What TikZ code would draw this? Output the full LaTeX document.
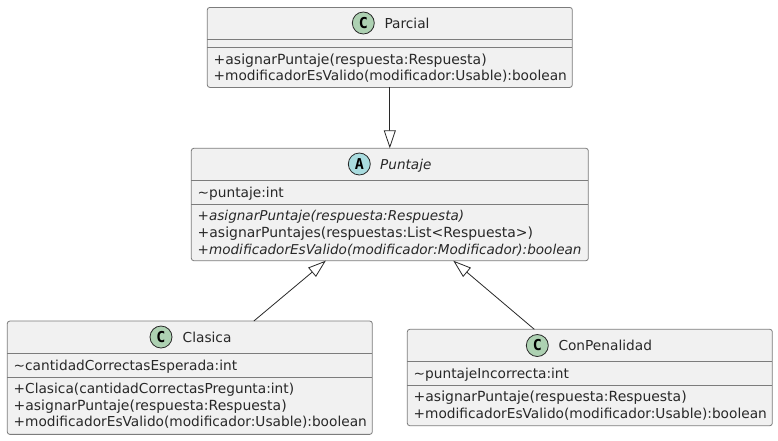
\documentclass[tikz,border=0pt]{standalone}
\usepackage{fontspec}
\setmainfont{DejaVu Sans}
\newfontfamily\iconfont{DejaVu Sans Mono}
\usetikzlibrary{arrows.meta}
\definecolor{boxfill}{HTML}{F1F1F1}
\definecolor{boxline}{HTML}{7C7C7C}
\definecolor{darkline}{HTML}{282828}
\definecolor{iconC}{HTML}{ADD1B2}
\definecolor{iconA}{HTML}{A9DCDF}
\tikzset{
  classbox/.style={draw=boxline,fill=boxfill,line width=.8pt,rounded corners=2.5pt,inner sep=0pt,outer sep=0pt},
  sepline/.style={draw=boxline,line width=.8pt},
  member/.style={anchor=base west,inner sep=0pt,text=darkline,font=\fontsize{13.72}{14}\selectfont},
  memberwide/.style={member,font=\fontsize{13.97}{14}\selectfont},
  slanted/.style={member,font=\fontsize{13.58}{14}\selectfont\itshape},
  title/.style={member},
  icon/.style={circle,draw=darkline,line width=.8pt,minimum size=22pt,inner sep=0pt,text=black,font=\iconfont\bfseries\fontsize{15}{15}\selectfont},
  inherits/.style={draw=darkline,line width=.8pt,-{Triangle[fill=white,length=18pt,width=12pt]}}
}
\begin{document}
\begin{tikzpicture}[x=1pt,y=-1pt]
\useasboundingbox[fill=white] (0,0) rectangle (778,440);

% class boxes
\node[classbox,minimum width=365pt,minimum height=80pt] (parcial) at (389.8,47.4) {};
\node[classbox,minimum width=397pt,minimum height=112.4pt] (puntaje) at (389.8,204.5) {};
\node[classbox,minimum width=365pt,minimum height=113.3pt] (clasica) at (189.8,377.7) {};
\node[classbox,minimum width=365pt,minimum height=96.4pt] (conpenalidad) at (589.8,377.5) {};

% compartments
\draw[sepline] (parcial.west |- 0,39.4) -- (parcial.east |- 0,39.4);
\draw[sepline] (parcial.west |- 0,47.4) -- (parcial.east |- 0,47.4);
\draw[sepline] (puntaje.west |- 0,180.4) -- (puntaje.east |- 0,180.4);
\draw[sepline] (puntaje.west |- 0,204.4) -- (puntaje.east |- 0,204.4);
\draw[sepline] (clasica.west |- 0,353.4) -- (clasica.east |- 0,353.4);
\draw[sepline] (clasica.west |- 0,377.4) -- (clasica.east |- 0,377.4);
\draw[sepline] (conpenalidad.west |- 0,361.4) -- (conpenalidad.east |- 0,361.4);
\draw[sepline] (conpenalidad.west |- 0,385.4) -- (conpenalidad.east |- 0,385.4);

% icons and titles
\node[icon,fill=iconC] (iconparcial) at (363.3,23) {C};
\node[title] (titleparcial) at (384.3,28) {Parcial};
\node[icon,fill=iconA] (iconpuntaje) at (359.3,164) {A};
\node[title,slanted] (titlepuntaje) at (380,169) {Puntaje};
\node[icon,fill=iconC] (iconclasica) at (161,337) {C};
\node[title] (titleclasica) at (182.5,342) {Clasica};
\node[icon,fill=iconC] (iconconpenalidad) at (537.3,345.5) {C};
\node[title] (titleconpenalidad) at (558.3,350.5) {ConPenalidad};

% members
\node[memberwide] (parcialm1) at (213.5,64) {+asignarPuntaje(respuesta:Respuesta)};
\node[member] (parcialm2) at (213.5,80.3) {+modificadorEsValido(modificador:Usable):boolean};

\node[member] (puntajea1) at (197.5,197.3) {\textasciitilde puntaje:int};
\node[slanted] (puntajem1) at (197.5,220.7) {+asignarPuntaje(respuesta:Respuesta)};
\node[memberwide] (puntajem2) at (197.5,237.7) {+asignarPuntajes(respuestas:List<Respuesta>)};
\node[slanted] (puntajem3) at (197.5,254) {+modificadorEsValido(modificador:Modificador):boolean};

\node[member] (clasicaa1) at (13.5,370) {\textasciitilde cantidadCorrectasEsperada:int};
\node[member] (clasicam1) at (13.5,393.3) {+Clasica(cantidadCorrectasPregunta:int)};
\node[memberwide] (clasicam2) at (13.5,410.3) {+asignarPuntaje(respuesta:Respuesta)};
\node[member] (clasicam3) at (13.5,426.7) {+modificadorEsValido(modificador:Usable):boolean};

\node[member] (conpenalidada1) at (413.5,378.3) {\textasciitilde puntajeIncorrecta:int};
\node[memberwide] (conpenalidadm1) at (413.5,401.7) {+asignarPuntaje(respuesta:Respuesta)};
\node[member] (conpenalidadm2) at (413.5,418.7) {+modificadorEsValido(modificador:Usable):boolean};

% inheritance
\draw[inherits] (parcial.south) -- (puntaje.north);
\draw[inherits] ([xshift=64pt]clasica.north) -- ([xshift=-64pt]puntaje.south);
\draw[inherits] ([xshift=-55.5pt]conpenalidad.north) -- ([xshift=63.5pt]puntaje.south);
\end{tikzpicture}
\end{document}
